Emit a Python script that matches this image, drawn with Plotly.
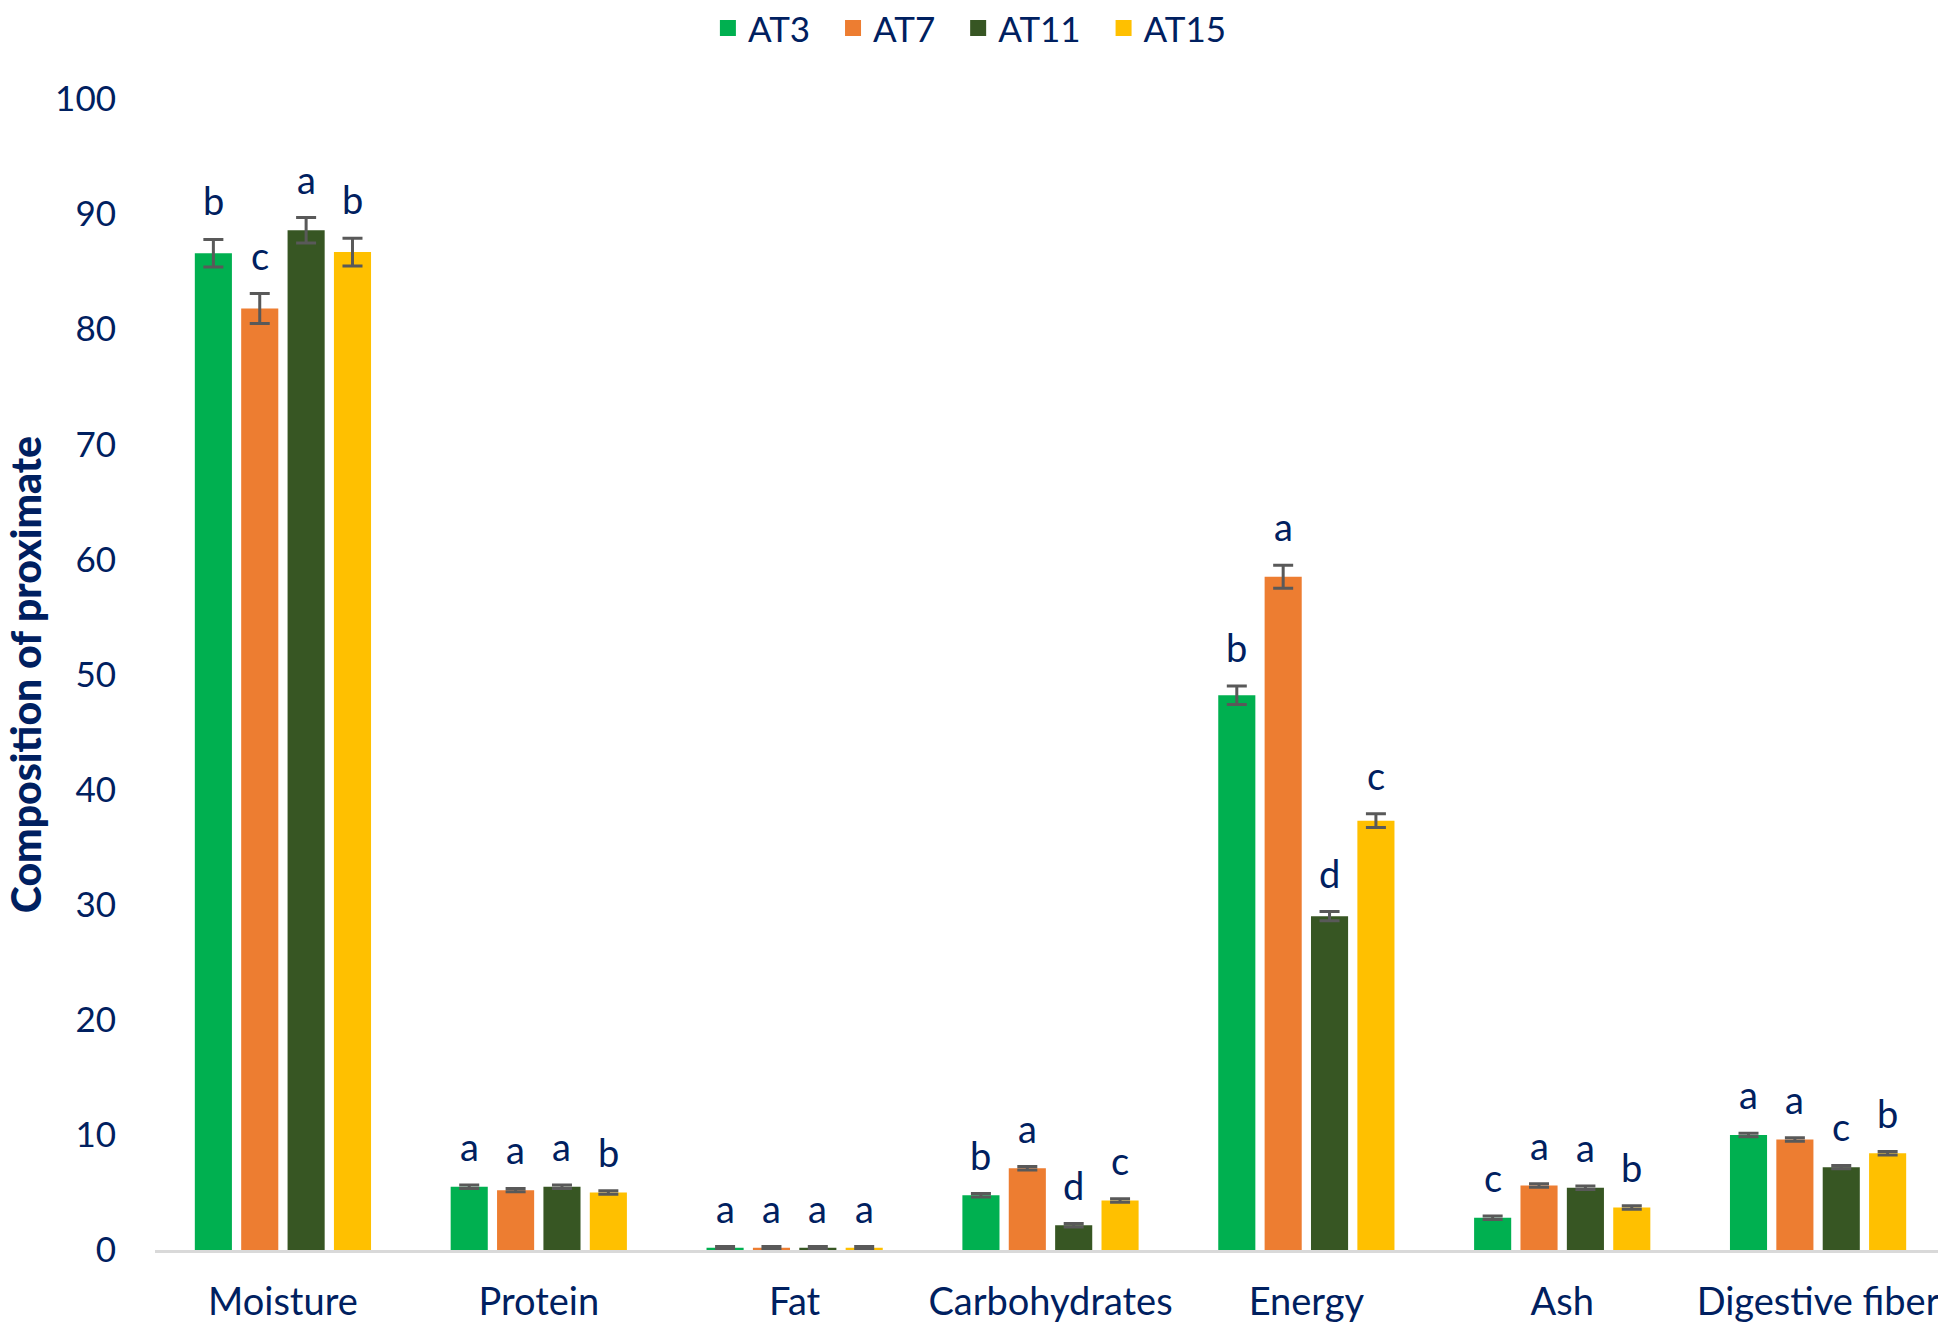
import plotly.graph_objects as go

categories = ["Moisture", "Protein", "Fat", "Carbohydrates", "Energy", "Ash", "Digestive fiber"]
series_names = ["AT3", "AT7", "AT11", "AT15"]
colors = ["#00B050", "#ED7D31", "#375623", "#FFC000"]

at3 = [86.6, 5.5, 0.2, 4.75, 48.2, 2.8, 10.0]
at7 = [81.8, 5.2, 0.2, 7.1, 58.5, 5.6, 9.6]
at11 = [88.6, 5.5, 0.2, 2.15, 29.0, 5.4, 7.2]
at15 = [86.7, 5.0, 0.2, 4.3, 37.3, 3.7, 8.4]

err3 = [1.2, 0.15, 0.1, 0.15, 0.8, 0.15, 0.15]
err7 = [1.3, 0.15, 0.1, 0.15, 1.0, 0.15, 0.15]
err11 = [1.1, 0.15, 0.1, 0.15, 0.4, 0.15, 0.15]
err15 = [1.2, 0.15, 0.1, 0.15, 0.6, 0.15, 0.15]

let3 = ["b", "a", "a", "b", "b", "c", "a"]
let7 = ["c", "a", "a", "a", "a", "a", "a"]
let11 = ["a", "a", "a", "d", "d", "a", "c"]
let15 = ["b", "b", "a", "c", "c", "b", "b"]

y_ticks = [0, 10, 20, 30, 40, 50, 60, 70, 80, 90, 100]

values = [at3, at7, at11, at15]
errors = [err3, err7, err11, err15]
letters = [let3, let7, let11, let15]

NAVY = "#002060"
FONT = "Lato"
BARGAP = 0.275
NB = "\u00a0\u00a0"

fig = go.Figure()
for name, col, v, e in zip(series_names, colors, values, errors):
    fig.add_trace(go.Bar(
        name=name, x=categories, y=v, showlegend=False,
        marker=dict(color=col, line=dict(width=0)),
        error_y=dict(type="data", array=e, visible=True, color="#595959",
                     thickness=3, width=10),
    ))
# legend entries with square swatches
for j, (name, col) in enumerate(zip(series_names, colors)):
    label = name + (NB if j < len(series_names) - 1 else "")
    fig.add_trace(go.Scatter(
        name=label, x=[None], y=[None], mode="markers",
        marker=dict(symbol="square", size=17, color=col),
    ))

slot = (1 - BARGAP) / len(series_names)
annotations = []
for k, (v, e, L) in enumerate(zip(values, errors, letters)):
    off = (k - (len(series_names) - 1) / 2) * slot
    for i in range(len(categories)):
        annotations.append(dict(
            x=i + off, y=v[i] + e[i], xref="x", yref="y",
            text=L[i], showarrow=False, yanchor="bottom", yshift=14,
            font=dict(family=FONT, size=38, color=NAVY),
        ))

annotations.append(dict(
    text="Composition of proximate", textangle=-90,
    xref="paper", yref="paper", x=-0.0722, y=0.5, showarrow=False,
    xanchor="center", yanchor="middle",
    font=dict(family=FONT, size=41, color=NAVY, weight=900),
))

fig.update_layout(
    width=1938, height=1314,
    margin=dict(l=147, r=0, t=91, b=72, autoexpand=False),
    paper_bgcolor="white", plot_bgcolor="white",
    barmode="group", bargap=BARGAP, bargroupgap=0.2,
    font=dict(family=FONT, size=35, color=NAVY),
    showlegend=True,
    legend=dict(orientation="h", x=0.455, y=1.087, xanchor="center", yanchor="top",
                font=dict(family=FONT, size=35, color=NAVY), itemwidth=30,
                tracegroupgap=0),
    annotations=annotations,
    xaxis=dict(showline=True, linecolor="#D9D9D9", linewidth=3, showgrid=False,
               ticks="", ticklabelstandoff=16, tickfont=dict(family=FONT, size=38, color=NAVY)),
    yaxis=dict(range=[0, 100], tickvals=y_ticks, showgrid=False, zeroline=False,
               showline=False, ticks="", ticklabelstandoff=38,
               tickfont=dict(family=FONT, size=35, color=NAVY)),
)

fig.write_html("out.html")
